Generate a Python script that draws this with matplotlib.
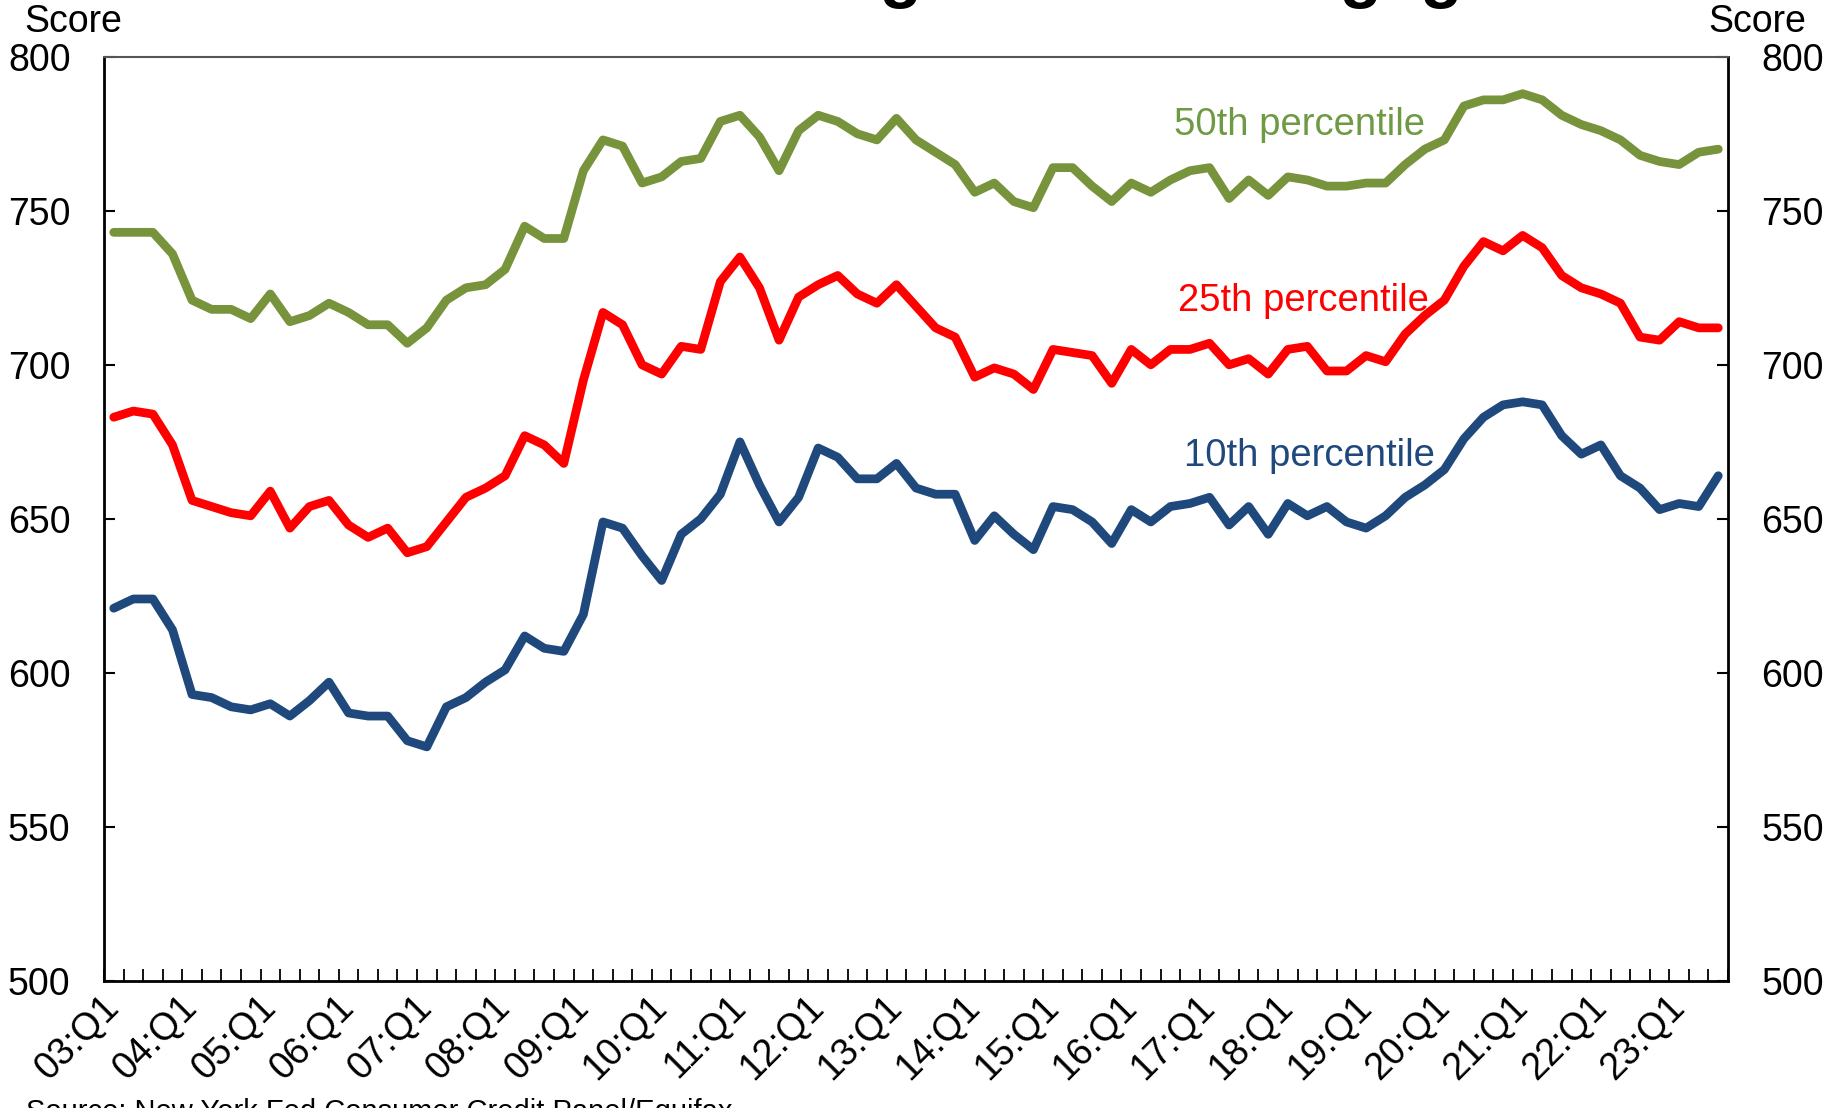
import matplotlib
matplotlib.use('Agg')
import matplotlib.pyplot as plt
import numpy as np

# quarters 03:Q1 .. 23:Q3
quarters = [f"{y:02d}:Q{q}" for y in range(3, 24) for q in range(1, 5)][:83]

p50 = [743, 743, 743, 736, 721, 718, 718, 715, 723, 714, 716, 720, 717, 713, 713, 707,
       712, 721, 725, 726, 731, 745, 741, 741, 763, 773, 771, 759, 761, 766, 767, 779,
       781, 774, 763, 776, 781, 779, 775, 773, 780, 773, 769, 765, 756, 759, 753, 751,
       764, 764, 758, 753, 759, 756, 760, 763, 764, 754, 760, 755, 761, 760, 758, 758,
       759, 759, 765, 770, 773, 784, 786, 786, 788, 786, 781, 778, 776, 773, 768, 766,
       765, 769, 770]

p25 = [683, 685, 684, 674, 656, 654, 652, 651, 659, 647, 654, 656, 648, 644, 647, 639,
       641, 649, 657, 660, 664, 677, 674, 668, 695, 717, 713, 700, 697, 706, 705, 727,
       735, 725, 708, 722, 726, 729, 723, 720, 726, 719, 712, 709, 696, 699, 697, 692,
       705, 704, 703, 694, 705, 700, 705, 705, 707, 700, 702, 697, 705, 706, 698, 698,
       703, 701, 710, 716, 721, 732, 740, 737, 742, 738, 729, 725, 723, 720, 709, 708,
       714, 712, 712]

p10 = [621, 624, 624, 614, 593, 592, 589, 588, 590, 586, 591, 597, 587, 586, 586, 578,
       576, 589, 592, 597, 601, 612, 608, 607, 619, 649, 647, 638, 630, 645, 650, 658,
       675, 661, 649, 657, 673, 670, 663, 663, 668, 660, 658, 658, 643, 651, 645, 640,
       654, 653, 649, 642, 653, 649, 654, 655, 657, 648, 654, 645, 655, 651, 654, 649,
       647, 651, 657, 661, 666, 676, 683, 687, 688, 687, 677, 671, 674, 664, 660, 653,
       655, 654, 664]

plt.rcParams['font.family'] = ['Liberation Sans', 'DejaVu Sans']

fig = plt.figure(figsize=(18.37, 11.08), dpi=100)
ax = fig.add_axes([0.0566, 0.1146, 0.8841, 0.8342])

x = np.arange(len(quarters))
line_kw = dict(lw=6.3, solid_joinstyle='round', solid_capstyle='round')
ax.plot(x, p50, color='#77933C', **line_kw)
ax.plot(x, p25, color='#FF0000', **line_kw)
ax.plot(x, p10, color='#1F497D', **line_kw)

ax.text(54.2, 778, '50th percentile', color='#6F9A44', fontsize=27.5, va='center', ha='left')
ax.text(54.4, 720.7, '25th percentile', color='#FF0000', fontsize=27.5, va='center', ha='left')
ax.text(54.7, 670.5, '10th percentile', color='#1F497D', fontsize=27.5, va='center', ha='left')

ax.set_xlim(-0.5, len(quarters) - 0.5)
ax.set_ylim(500, 800)
ax.set_yticks(range(500, 801, 50))
ax.tick_params(axis='y', direction='in', length=8, width=1.5, labelsize=27, pad=24,
               left=True, right=True, labelleft=True, labelright=True)

q1_pos = [i for i, q in enumerate(quarters) if q.endswith('Q1')]
ax.set_xticks(q1_pos)
ax.set_xticklabels([quarters[i] for i in q1_pos], rotation=45, ha='right', va='center',
                   rotation_mode='anchor')
ax.set_xticks(np.arange(-0.5, len(quarters)), minor=True)
ax.tick_params(axis='x', which='major', length=0, labelsize=27, pad=15)
ax.tick_params(axis='x', which='minor', direction='in', length=9, width=1.3)

for s in ['left', 'right', 'bottom']:
    ax.spines[s].set_color('black')
    ax.spines[s].set_linewidth(2)
ax.spines['top'].set_color('#555555')
ax.spines['top'].set_linewidth(1.5)

fig.text(0.4927, 1.0045, 'Credit Score at Origination: Mortgages', ha='center', va='baseline',
         fontsize=49.7, fontweight='bold')
fig.text(73 / 1837, 0.971, 'Score', ha='center', va='baseline', fontsize=27)
fig.text(1757 / 1837, 0.971, 'Score', ha='center', va='baseline', fontsize=27)
fig.text(26 / 1837, -0.0108, 'Source: New York Fed Consumer Credit Panel/Equifax',
         ha='left', va='baseline', fontsize=21)

fig.savefig('out.png', dpi=100)
